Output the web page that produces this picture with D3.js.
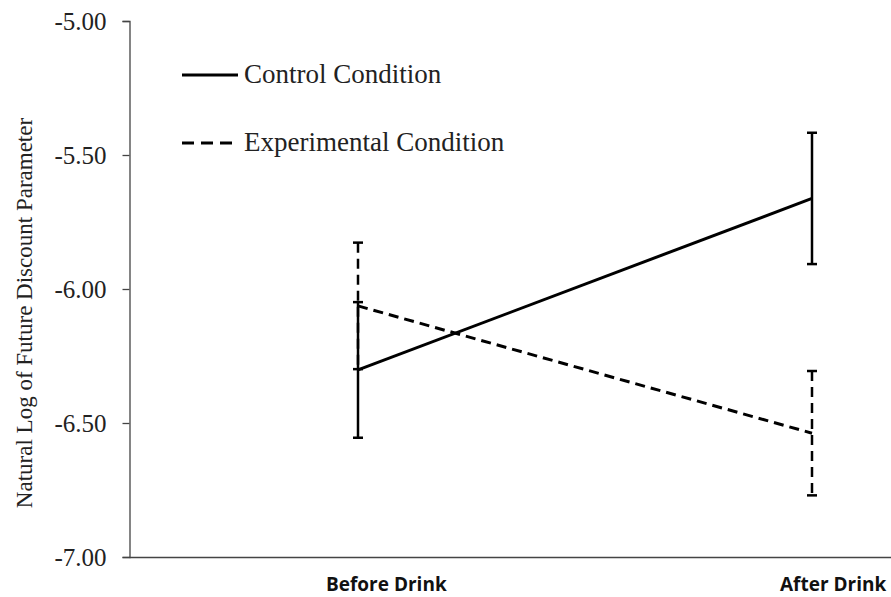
<!DOCTYPE html>
<html>
<head>
<meta charset="utf-8">
<script src="https://d3js.org/d3.v7.min.js"></script>
<style>
    body { margin: 0; background: white; }
    svg { display: block; }
    .serif { font-family: "Liberation Serif", "Times New Roman", serif; }
</style>
</head>
<body>
<div id="chart"></div>
<script>
    // data
    const categories = ["Before Drink", "After Drink"];
    const seriesNames = ["Control Condition", "Experimental Condition"];
    const controlMeans = [-6.302, -5.662];
    const controlErr = [0.253, 0.245];
    const experimentalMeans = [-6.063, -6.538];
    const experimentalErr = [0.236, 0.232];
    const yTicks = [-5.0, -5.5, -6.0, -6.5, -7.0];

    const width = 891, height = 597;

    const svg = d3.select("#chart")
        .append("svg")
        .attr("width", width)
        .attr("height", height);

    const y = d3.scaleLinear()
        .domain([-7, -5])
        .range([557, 21]);

    const x = d3.scalePoint()
        .domain(categories)
        .range([358, 812]);

    // y axis
    const yAxis = svg.append("g")
        .attr("transform", "translate(129.5,0)")
        .call(d3.axisLeft(y).tickValues(yTicks).tickSize(7).tickPadding(16));
    yAxis.attr("font-family", null).attr("font-size", null);
    yAxis.select(".domain").attr("stroke", "#444").attr("stroke-width", 1.3);
    yAxis.selectAll(".tick line").attr("stroke", "#444").attr("stroke-width", 1.3);
    yAxis.selectAll(".tick text")
        .attr("class", "serif")
        .style("font-size", "25px")
        .attr("fill", "#222")
        .text(d => d.toFixed(2));

    // x axis line
    svg.append("line")
        .attr("x1", 129.5).attr("x2", width)
        .attr("y1", y(-7) + 0.5).attr("y2", y(-7) + 0.5)
        .attr("stroke", "#444").attr("stroke-width", 1.3);

    // category labels
    svg.selectAll("text.cat")
        .data(categories)
        .enter()
        .append("text")
        .attr("class", "cat")
        .attr("x", d => x(d) - 32)
        .attr("y", 591)
        .attr("font-family", "Open Sans, Liberation Sans, sans-serif")
        .attr("font-weight", "bold")
        .attr("font-size", 19)
        .attr("fill", "#111")
        .text(d => d);

    // y axis title
    svg.append("text")
        .attr("class", "serif")
        .attr("transform", "translate(32," + 313 + ") rotate(-90)")
        .attr("text-anchor", "middle")
        .style("font-size", "23px")
        .attr("fill", "#222")
        .text("Natural Log of Future Discount Parameter");

    const series = [
        { name: seriesNames[0], means: controlMeans, err: controlErr, dash: null },
        { name: seriesNames[1], means: experimentalMeans, err: experimentalErr, dash: "10,6" }
    ];

    const line = d3.line()
        .x((d, i) => x(categories[i]))
        .y(d => y(d));

    series.forEach(s => {
        // error bars
        s.means.forEach((m, i) => {
            const cx = x(categories[i]);
            svg.append("line")
                .attr("x1", cx).attr("x2", cx)
                .attr("y1", y(m + s.err[i])).attr("y2", y(m - s.err[i]))
                .attr("stroke", "black").attr("stroke-width", 2.5)
                .attr("stroke-dasharray", s.dash);
            [m + s.err[i], m - s.err[i]].forEach(v => {
                svg.append("line")
                    .attr("x1", cx - 5).attr("x2", cx + 5)
                    .attr("y1", y(v)).attr("y2", y(v))
                    .attr("stroke", "black").attr("stroke-width", 2.5);
            });
        });

        svg.append("path")
            .datum(s.means)
            .attr("d", line)
            .attr("fill", "none")
            .attr("stroke", "black")
            .attr("stroke-width", 3)
            .attr("stroke-dasharray", s.dash);
    });

    // legend
    const legendY = [75, 143];
    series.forEach((s, i) => {
        svg.append("line")
            .attr("x1", 182).attr("x2", 238)
            .attr("y1", legendY[i]).attr("y2", legendY[i])
            .attr("stroke", "black").attr("stroke-width", 3)
            .attr("stroke-dasharray", s.dash ? "12,7" : null);
        svg.append("text")
            .attr("class", "serif")
            .attr("x", 244)
            .attr("y", legendY[i] + 8)
            .style("font-size", "27px")
            .attr("fill", "#222")
            .text(s.name);
    });
</script>
</body>
</html>
